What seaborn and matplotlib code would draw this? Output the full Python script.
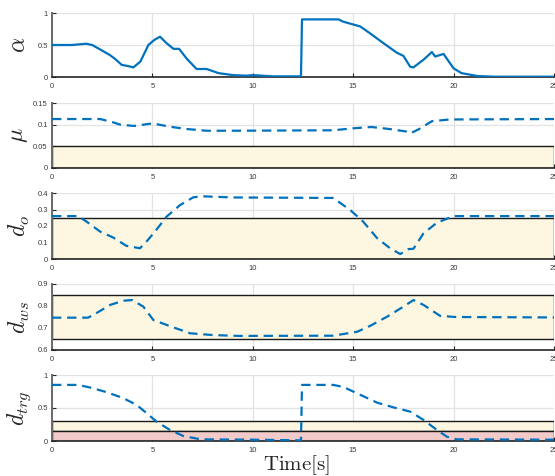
import numpy as np
import pandas as pd
import matplotlib
matplotlib.use("Agg")
import matplotlib.pyplot as plt
import seaborn as sns

# ---- data --------------------------------------------------------------
alpha_t = [0, 1.0, 1.7, 2.0, 2.4, 2.9, 3.15, 3.47, 3.8, 4.05, 4.4, 4.8, 5.1, 5.38,
           5.7, 6.05, 6.33, 6.7, 7.2, 7.7, 8.3, 9.0, 9.7, 10.0, 11.0, 12.4, 12.45,
           14.27, 14.5, 15.35, 15.85, 16.5, 17.17, 17.5, 17.84, 18.0, 18.5, 18.92,
           19.08, 19.5, 20.0, 20.4, 21.2, 22.0, 25.0]
alpha_v = [0.5, 0.5, 0.52, 0.5, 0.43, 0.34, 0.28, 0.19, 0.17, 0.15, 0.24, 0.5, 0.58,
           0.63, 0.53, 0.44, 0.44, 0.29, 0.125, 0.125, 0.06, 0.03, 0.02, 0.03, 0.01,
           0.01, 0.9, 0.9, 0.865, 0.79, 0.68, 0.53, 0.38, 0.33, 0.16, 0.15, 0.27,
           0.39, 0.32, 0.36, 0.135, 0.06, 0.015, 0.005, 0.005]

mu_t = [0, 2.4, 3.0, 3.4, 4.1, 5.0, 5.9, 6.7, 7.7, 9.0, 14.0, 15.0, 15.9, 16.8,
        17.67, 17.85, 18.25, 18.92, 19.8, 25]
mu_v = [0.113, 0.113, 0.106, 0.100, 0.097, 0.103, 0.095, 0.090, 0.086, 0.086, 0.087,
        0.0916, 0.0946, 0.090, 0.084, 0.080, 0.089, 0.108, 0.112, 0.113]

do_t = [0, 1.3, 1.73, 2.4, 3.05, 3.7, 4.38, 4.7, 5.13, 5.7, 6.38, 7.04, 7.5, 9.0,
        14.0, 14.85, 15.5, 16.2, 16.84, 17.34, 17.75, 18.0, 18.5, 19.17, 20.0, 25]
do_v = [0.26, 0.26, 0.226, 0.166, 0.13, 0.08, 0.065, 0.105, 0.166, 0.256, 0.327,
        0.374, 0.38, 0.373, 0.37, 0.297, 0.226, 0.125, 0.065, 0.03, 0.06, 0.062,
        0.155, 0.22, 0.26, 0.26]

dws_t = [0, 1.8, 2.2, 2.9, 3.55, 4.0, 4.55, 5.05, 6.04, 6.88, 8.0, 9.3, 14.0, 15.2,
         15.85, 16.7, 17.5, 18.0, 18.5, 19.33, 20.1, 25]
dws_v = [0.747, 0.747, 0.767, 0.805, 0.824, 0.827, 0.797, 0.736, 0.703, 0.676, 0.668,
         0.664, 0.665, 0.683, 0.71, 0.752, 0.797, 0.827, 0.805, 0.755, 0.75, 0.748]

dtrg_t = [0, 1.3, 1.9, 2.72, 3.55, 4.22, 4.72, 5.22, 5.88, 6.54, 7.4, 10.0, 12.4,
          12.45, 14.0, 14.5, 15.35, 16.2, 17.0, 17.84, 18.5, 19.17, 19.67, 20.17, 25]
dtrg_v = [0.85, 0.85, 0.81, 0.74, 0.65, 0.545, 0.42, 0.29, 0.167, 0.076, 0.025, 0.02,
          0.01, 0.85, 0.85, 0.82, 0.70, 0.58, 0.51, 0.445, 0.32, 0.167, 0.065, 0.025,
          0.02]

ylabels = [r"$\alpha$", r"$\mu$", r"$d_o$", r"$d_{ws}$", r"$d_{trg}$"]
ylims = [(0, 1), (0, 0.15), (0, 0.4), (0.6, 0.9), (0, 1)]
yticks = [[0, 0.5, 1], [0, 0.05, 0.1, 0.15], [0, 0.1, 0.2, 0.3, 0.4],
          [0.6, 0.7, 0.8, 0.9], [0, 0.5, 1]]
ytick_labels = [["0", "0.5", "1"], ["0", "0.05", "0.1", "0.15"],
                ["0", "0.1", "0.2", "0.3", "0.4"], ["0.6", "0.7", "0.8", "0.9"],
                ["0", "0.5", "1"]]
xticks = [0, 5, 10, 15, 20, 25]

# admissible bands: (low, high, face colour)
cream = "#fdf6e1"
pink = "#f3caca"
bands = [
    [],
    [(0.0, 0.05, cream)],
    [(0.0, 0.25, cream)],
    [(0.65, 0.85, cream)],
    [(0.15, 0.30, cream), (0.0, 0.15, pink)],
]

series = [(alpha_t, alpha_v), (mu_t, mu_v), (do_t, do_v), (dws_t, dws_v),
          (dtrg_t, dtrg_v)]

# ---- figure ------------------------------------------------------------
sns.set_style("whitegrid")
plt.rcParams["mathtext.fontset"] = "cm"
plt.rcParams["font.family"] = ["Liberation Sans", "DejaVu Sans"]

W, H = 555, 476
fig = plt.figure(figsize=(W / 100, H / 100), dpi=100)

panel_px = [(13, 77), (103, 168), (193, 259), (284, 350), (375, 441)]
x0_px, x1_px = 52, 554
blue = "#0072bd"

for i, ((top, bot), (t, v)) in enumerate(zip(panel_px, series)):
    ax = fig.add_axes([x0_px / W, (H - bot) / H, (x1_px - x0_px) / W, (bot - top) / H])
    ax.set_axisbelow(True)
    for lo, hi, fc in bands[i]:
        ax.add_patch(plt.Rectangle((0, lo), 25, hi - lo, facecolor=fc,
                                   edgecolor="#1a1a1a", linewidth=1.0, zorder=1.5))
    df = pd.DataFrame({"t": t, "v": v})
    sns.lineplot(data=df, x="t", y="v", ax=ax, color=blue, linewidth=1.6,
                 zorder=3, estimator=None, sort=False)
    if i > 0:
        ax.lines[-1].set_dashes((4.2, 2.6))
    ax.set_xlim(0, 25)
    ax.set_ylim(*ylims[i])
    ax.set_xticks(xticks)
    ax.set_xticklabels([str(x) for x in xticks])
    ax.set_yticks(yticks[i])
    ax.set_yticklabels(ytick_labels[i])
    ax.grid(True, color="#e3e3e3", linewidth=0.9)
    ax.tick_params(axis="both", direction="in", length=3, width=0.8, colors="#262626",
                   labelsize=5.5, pad=3, labelcolor="#3a3a3a")
    ax.tick_params(axis="x", bottom=True, pad=4)
    ax.tick_params(axis="y", left=True)
    for s in ("top", "right"):
        ax.spines[s].set_visible(False)
    ax.spines["left"].set_color("#6a6a6a")
    ax.spines["left"].set_linewidth(1.4)
    ax.spines["bottom"].set_color("#262626")
    ax.spines["bottom"].set_linewidth(1.2)
    ax.set_ylabel(ylabels[i], fontsize=17, va="center", color="#262626")
    ax.yaxis.set_label_coords((19 - x0_px) / (x1_px - x0_px), 0.5)
    if i == 4:
        ax.set_xlabel(r"$\mathrm{Time[s]}$", fontsize=15, va="center", color="#262626")
        ax.xaxis.set_label_coords((296 - x0_px) / (x1_px - x0_px),
                                  -(465 - bot) / (bot - top))
    else:
        ax.set_xlabel("")

fig.savefig("out.png", dpi=100)
